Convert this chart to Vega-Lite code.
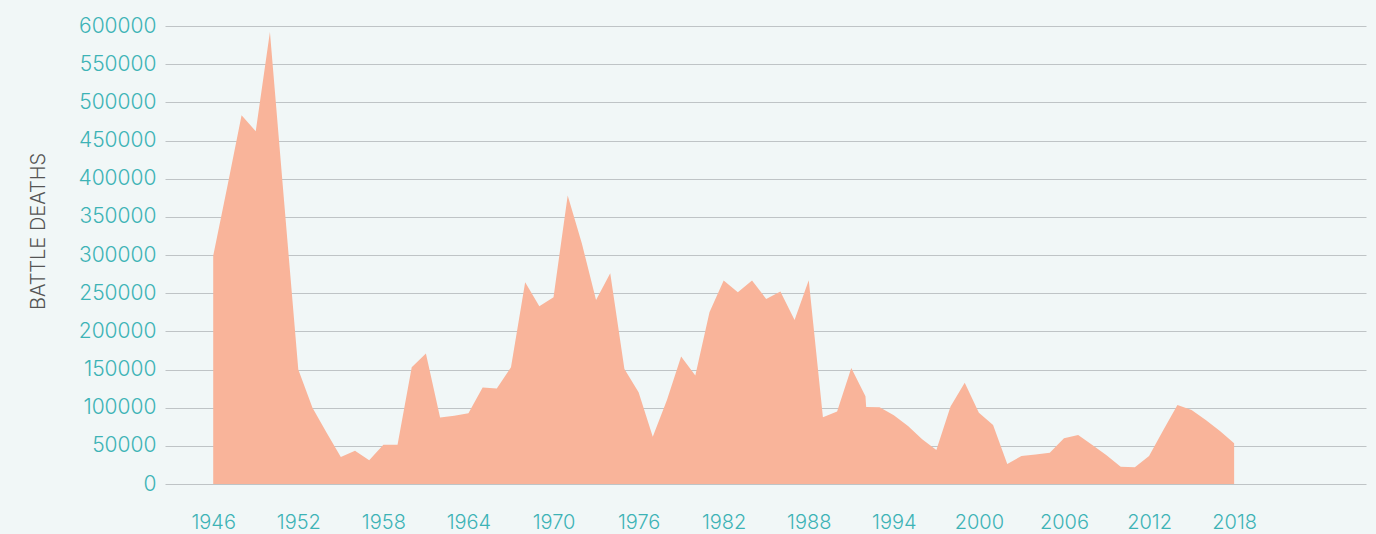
{
  "$schema": "https://vega.github.io/schema/vega-lite/v6.json",
  "width": 1201,
  "height": 458,
  "autosize": {"type": "none"},
  "padding": {"left": 165, "top": 26, "right": 10, "bottom": 50},
  "background": "#f1f7f7",
  "config": {
    "view": {"stroke": null},
    "font": "Inter"
  },
  "data": {
    "values": [
      {"year": 1946, "deaths": 299000},
      {"year": 1947, "deaths": 390000},
      {"year": 1948, "deaths": 483000},
      {"year": 1949, "deaths": 462000},
      {"year": 1950, "deaths": 592000},
      {"year": 1951, "deaths": 370000},
      {"year": 1952, "deaths": 150000},
      {"year": 1953, "deaths": 100000},
      {"year": 1954, "deaths": 67000},
      {"year": 1955, "deaths": 35500},
      {"year": 1956, "deaths": 43700},
      {"year": 1957, "deaths": 31200},
      {"year": 1958, "deaths": 51300},
      {"year": 1959, "deaths": 51500},
      {"year": 1960, "deaths": 153000},
      {"year": 1961, "deaths": 171000},
      {"year": 1962, "deaths": 87000},
      {"year": 1963, "deaths": 89500},
      {"year": 1964, "deaths": 92800},
      {"year": 1965, "deaths": 126300},
      {"year": 1966, "deaths": 125000},
      {"year": 1967, "deaths": 153000},
      {"year": 1968, "deaths": 264400},
      {"year": 1969, "deaths": 233000},
      {"year": 1970, "deaths": 244700},
      {"year": 1971, "deaths": 378000},
      {"year": 1972, "deaths": 315000},
      {"year": 1973, "deaths": 241000},
      {"year": 1974, "deaths": 276000},
      {"year": 1975, "deaths": 150700},
      {"year": 1976, "deaths": 120200},
      {"year": 1977, "deaths": 62000},
      {"year": 1978, "deaths": 110000},
      {"year": 1979, "deaths": 167000},
      {"year": 1980, "deaths": 142000},
      {"year": 1981, "deaths": 225000},
      {"year": 1982, "deaths": 266600},
      {"year": 1983, "deaths": 251300},
      {"year": 1984, "deaths": 266600},
      {"year": 1985, "deaths": 242500},
      {"year": 1986, "deaths": 252100},
      {"year": 1987, "deaths": 215000},
      {"year": 1988, "deaths": 267000},
      {"year": 1989, "deaths": 87500},
      {"year": 1990, "deaths": 95000},
      {"year": 1991, "deaths": 152000},
      {"year": 1992, "deaths": 115000},
      {"year": 1992.05, "deaths": 101000},
      {"year": 1993, "deaths": 100500},
      {"year": 1994, "deaths": 90000},
      {"year": 1995, "deaths": 76000},
      {"year": 1996, "deaths": 58600},
      {"year": 1997, "deaths": 44600},
      {"year": 1998, "deaths": 101400},
      {"year": 1999, "deaths": 132800},
      {"year": 2000, "deaths": 93500},
      {"year": 2001, "deaths": 77300},
      {"year": 2002, "deaths": 26200},
      {"year": 2003, "deaths": 36700},
      {"year": 2004, "deaths": 38500},
      {"year": 2005, "deaths": 41100},
      {"year": 2006, "deaths": 59900},
      {"year": 2007, "deaths": 64200},
      {"year": 2008, "deaths": 51100},
      {"year": 2009, "deaths": 37600},
      {"year": 2010, "deaths": 22700},
      {"year": 2011, "deaths": 21900},
      {"year": 2012, "deaths": 36700},
      {"year": 2013, "deaths": 70400},
      {"year": 2014, "deaths": 103600},
      {"year": 2015, "deaths": 97000},
      {"year": 2016, "deaths": 83900},
      {"year": 2017, "deaths": 69500},
      {"year": 2018, "deaths": 53300}
    ]
  },
  "mark": {"type": "area", "color": "#f9b49a", "opacity": 1},
  "encoding": {
    "x": {
      "field": "year",
      "type": "quantitative",
      "scale": {"domain": [1942.6, 2027.3], "nice": false, "zero": false},
      "axis": {
        "title": null,
        "values": [1946, 1952, 1958, 1964, 1970, 1976, 1982, 1988, 1994, 2000, 2006, 2012, 2018],
        "format": "d",
        "grid": false,
        "domain": false,
        "ticks": false,
        "labelPadding": 28,
        "labelFontSize": 20,
        "labelColor": "#3db3b6",
        "labelFont": "Inter",
        "labelFontWeight": 300
      }
    },
    "y": {
      "field": "deaths",
      "type": "quantitative",
      "scale": {"domain": [0, 600000], "nice": false},
      "axis": {
        "title": "BATTLE  DEATHS",
        "values": [0, 50000, 100000, 150000, 200000, 250000, 300000, 350000, 400000, 450000, 500000, 550000, 600000],
        "format": "d",
        "grid": true,
        "gridColor": "#bfc4c6",
        "gridWidth": 1,
        "domain": false,
        "ticks": false,
        "labelPadding": 9,
        "labelFontSize": 21,
        "labelColor": "#3db3b6",
        "labelFont": "Inter",
        "labelFontWeight": 300,
        "titleFont": "Inter",
        "titleFontWeight": 300,
        "titleFontSize": 20,
        "titleColor": "#555555",
        "titleAngle": -90,
        "titleX": -127,
        "titleY": 205,
        "titleAlign": "center",
        "titleBaseline": "middle"
      }
    }
  }
}
